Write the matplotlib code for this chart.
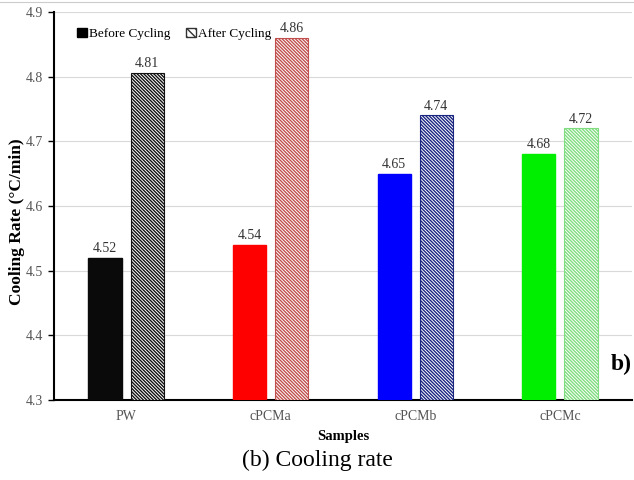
import matplotlib
matplotlib.use('Agg')
import matplotlib.pyplot as plt
import numpy as np
from matplotlib.patches import Patch
from matplotlib.lines import Line2D

samples = ['PW', 'cPCMa', 'cPCMb', 'cPCMc']
before = [4.52, 4.54, 4.65, 4.68]
after = [4.806, 4.86, 4.74, 4.72]
fill_colors = ['#0a0a0a', '#ff0000', '#0000ff', '#00ee00']
hatch_colors = ['#111111', '#c0504d', '#1a2580', '#7fdc7f']
yticks = [4.3, 4.4, 4.5, 4.6, 4.7, 4.8, 4.9]

plt.rcParams['font.family'] = ['Liberation Serif', 'DejaVu Serif']
plt.rcParams['hatch.linewidth'] = 1.0

fig = plt.figure(figsize=(6.34, 4.8), dpi=100)
ax = fig.add_axes([0.085, 0.167, 0.912, 0.808])

x = np.arange(len(samples))
w = 0.23
off = 0.146
base = 4.3
hatch = '\\' * 10
for i in range(len(samples)):
    ax.bar(x[i] - off, before[i] - base, w, bottom=base, color=fill_colors[i],
           edgecolor=fill_colors[i], zorder=3)
    ax.bar(x[i] + off, after[i] - base, w, bottom=base, color='white',
           edgecolor=hatch_colors[i], hatch=hatch, linewidth=0.8, zorder=3)
    ax.annotate('%.2f' % before[i], (x[i] - off, before[i]), xytext=(0, 2),
                textcoords='offset points', ha='center', va='bottom',
                fontsize=10, color='#333333')
    ax.annotate('%.2f' % after[i], (x[i] + off, after[i]), xytext=(0, 2),
                textcoords='offset points', ha='center', va='bottom',
                fontsize=10, color='#333333')

ax.set_xlim(-0.5, 3.5)
ax.set_ylim(4.3, 4.9)
ax.set_yticks(yticks)
ax.set_yticklabels(['%.1f' % t for t in yticks])
ax.set_xticks(x)
ax.set_xticklabels(samples)
ax.tick_params(axis='y', length=4, width=1, colors='black', labelcolor='#555555', labelsize=10)
ax.tick_params(axis='x', length=0, labelcolor='#555555', labelsize=10, pad=7)
ax.yaxis.grid(True, color='#d9d9d9', linewidth=0.8, zorder=0)
ax.set_axisbelow(True)
for s in ['top', 'right']:
    ax.spines[s].set_visible(False)
ax.spines['left'].set_linewidth(1.5)
ax.spines['bottom'].set_linewidth(1.5)

ax.set_ylabel('Cooling Rate (\u00b0C/min)', fontsize=12.5, fontweight='bold')
ax.yaxis.set_label_coords(-0.05, 0.46)
ax.set_xlabel('Samples', fontsize=10.5, fontweight='bold', labelpad=5)

handles = [Patch(facecolor='black', edgecolor='black'),
           Patch(facecolor='white', edgecolor='#333333', hatch='\\\\\\\\')]
ax.legend(handles, ['Before Cycling', 'After Cycling'], loc='upper left',
          bbox_to_anchor=(0.02, 0.99), ncol=2, frameon=False, fontsize=9.5,
          handlelength=0.7, handleheight=0.7, handletextpad=0.2, columnspacing=1.2)

ax.text(0.999, 0.09, 'b)', transform=ax.transAxes, ha='right', va='center',
        fontsize=17, fontweight='bold')

fig.text(0.5, 0.04, '(b) Cooling rate', ha='center', va='center', fontsize=17)
fig.add_artist(Line2D([0, 1], [0.995, 0.995], color='#cccccc', linewidth=0.8))

plt.savefig('out.png', dpi=100)
